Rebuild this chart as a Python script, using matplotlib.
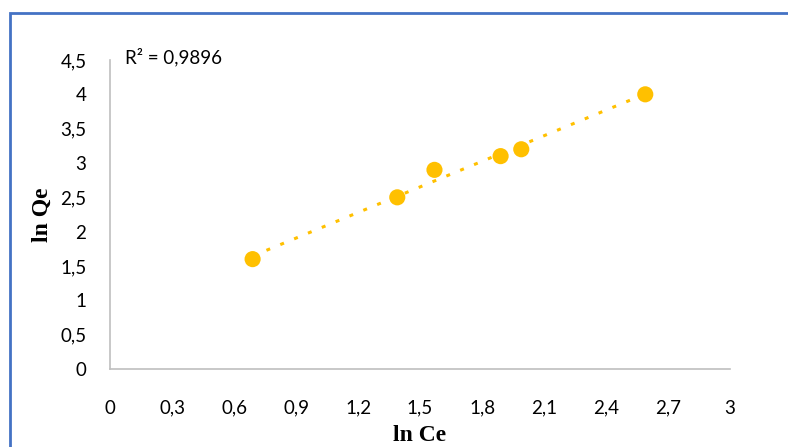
import numpy as np
import matplotlib
matplotlib.use('Agg')
import matplotlib.pyplot as plt
from matplotlib.patches import Rectangle

# data
ln_ce = [0.69, 1.39, 1.57, 1.89, 1.99, 2.59]
ln_qe = [1.6, 2.5, 2.9, 3.1, 3.2, 4.0]
x_ticks = [0, 0.3, 0.6, 0.9, 1.2, 1.5, 1.8, 2.1, 2.4, 2.7, 3.0]
y_ticks = [0, 0.5, 1, 1.5, 2, 2.5, 3, 3.5, 4, 4.5]
r2_label = "R² = 0,9896"

gold = "#FFC000"
grey = "#BFBFBF"

fig = plt.figure(figsize=(7.88, 4.47), dpi=100)
ax = fig.add_axes([0.1396, 0.1745, 0.7868, 0.6913])

# linear trendline over the data range
m, c = np.polyfit(ln_ce, ln_qe, 1)
xs = np.array([min(ln_ce), max(ln_ce)])
ax.plot(xs, m * xs + c, color=gold, lw=2.2, dashes=(1.3, 3.6),
        dash_capstyle='butt', zorder=2)
ax.scatter(ln_ce, ln_qe, s=135, color=gold, edgecolors='none', zorder=3)

ax.set_xlim(0, 3)
ax.set_ylim(0, 4.5)
ax.set_xticks(x_ticks)
ax.set_yticks(y_ticks)

def comma(v):
    s = f"{v:g}"
    return s.replace('.', ',')

ax.set_xticklabels([comma(v) for v in x_ticks], fontsize=13.5, family='Lato')
ax.set_yticklabels([comma(v) for v in y_ticks], fontsize=13.5, family='Lato')
ax.tick_params(length=0)
ax.tick_params(axis='x', pad=22)
ax.tick_params(axis='y', pad=17)

for side in ['top', 'right']:
    ax.spines[side].set_visible(False)
for side in ['left', 'bottom']:
    ax.spines[side].set_color(grey)
    ax.spines[side].set_linewidth(1.2)

ax.set_xlabel("ln Ce", fontsize=17, fontweight='bold', family='Liberation Serif', labelpad=6)
ax.set_ylabel("ln Qe", fontsize=17, fontweight='bold', family='Liberation Serif', labelpad=5)

fig.text(125 / 788, 1 - 57 / 447, r2_label, fontsize=13.5, family='Lato',
         va='center', ha='left')

# blue frame (left and top edges visible)
fig.patches.append(Rectangle((10 / 788, -0.05), 1.1, 1 - 13 / 447 + 0.05,
                             transform=fig.transFigure, fill=False,
                             edgecolor="#4472C4", lw=2))

fig.savefig("out.png", dpi=100)
